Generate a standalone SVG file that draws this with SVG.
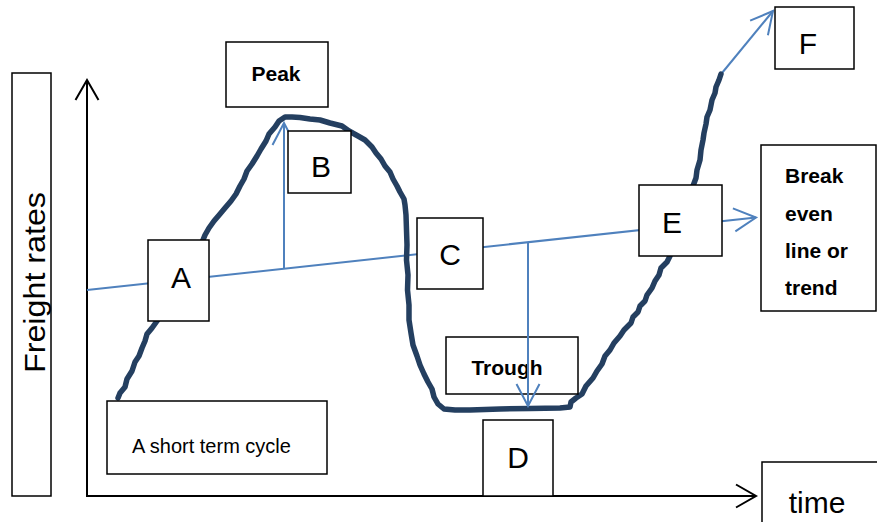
<svg xmlns="http://www.w3.org/2000/svg" width="877" height="522" viewBox="0 0 877 522">
  <defs>
    <style>
      .box { fill: #ffffff; stroke: #000000; stroke-width: 1.5; }
      .axis { fill: none; stroke: #000000; stroke-width: 2; }
      .blue { fill: none; stroke: #4F81BD; stroke-width: 2; }
      .cycle { fill: none; stroke: #243F60; stroke-width: 5.5; stroke-linejoin: round; stroke-linecap: round; }
      .lbl { font-family: "Liberation Sans", Arial, sans-serif; font-size: 30px; fill: #000000; text-anchor: middle; }
      .bold { font-family: "Liberation Sans", Arial, sans-serif; font-size: 21px; font-weight: bold; fill: #000000; }
      .small { font-family: "Liberation Sans", Arial, sans-serif; font-size: 20px; fill: #000000; }
    </style>
    <marker id="blueHead" markerUnits="userSpaceOnUse" markerWidth="26" markerHeight="26" refX="24" refY="13" orient="auto">
      <path d="M2,1.5 L24,13 L2,24.5" fill="none" stroke="#4F81BD" stroke-width="2"/>
    </marker>
    <marker id="axisHead" markerUnits="userSpaceOnUse" markerWidth="26" markerHeight="26" refX="23" refY="13" orient="auto">
      <path d="M3,1.5 L23,13 L3,24.5" fill="none" stroke="#000000" stroke-width="2"/>
    </marker>
  </defs>

  <!-- axes -->
  <g id="axes">
    <line class="axis" x1="87" y1="497" x2="87" y2="80" marker-end="url(#axisHead)"/>
    <line class="axis" x1="86" y1="496" x2="756" y2="496" marker-end="url(#axisHead)"/>
  </g>

  <!-- connectors: trend line and pointer arrows -->
  <g id="connectors">
    <line class="blue" x1="87" y1="290" x2="756" y2="217.5" marker-end="url(#blueHead)"/>
    <line class="blue" x1="284" y1="268" x2="284" y2="123" marker-end="url(#blueHead)"/>
    <line class="blue" x1="722" y1="73" x2="773" y2="11" marker-end="url(#blueHead)"/>
  </g>

  <!-- the freight rate cycle curve, hand-drawn look -->
  <g id="cycle-curve">
    <polyline class="cycle" points="118,398 120,393 125,387 127,379 132,371 135,362 139,356 142,348 145,341 147,334 152,328 157,321 170,300 190,265 203,240 205,235 209,228 214,221 220,214 225,208 231,201 236,194 240,186 244,179 247,171 252,164 257,156 261,149 266,141 269,134 275,127 279,121 285,117 292,117 300,117.5 310,119 320,120 330,123 342,126 349,131 358,136 365,140 372,147 376,153 381,159 385,166 390,172 393,179 397,186 400,192 404,199 405,205 406,215 406.5,230 407,245 406.5,260 408,275 407.5,290 409,305 409,320 411,333 413,345 417,356 420,365 424,374 428,382 432,389 434,397 438,404 444,409 455,410 470,410 500,409 530,408.5 560,408 570,407 571,402 576,398 582,394 586,386 593,378 597,371 602,364 605,356 610,350 614,343 620,336 624,330 631,323 633,317 638,312 640,306 645,301 647,295 652,288 655,281 659,275 661,268 667,262 670,256 680,225 690,195 693,186 696,178 697,170 700,160 701,150 703,140 704,133 706,124 707,117 710,110 712,100 715,93 716,87 719,80 721,74"/>
  </g>

  <!-- axis titles -->
  <g id="y-title">
    <rect class="box" x="12" y="73" width="39" height="423"/>
    <text class="lbl" x="0" y="0" transform="translate(45,282.5) rotate(-90)" textLength="181" lengthAdjust="spacingAndGlyphs">Freight rates</text>
  </g>
  <g id="x-title">
    <rect class="box" x="762" y="462" width="120" height="70"/>
    <text class="lbl" x="817" y="513" font-size="31">time</text>
  </g>

  <!-- labelled nodes -->
  <g id="node-peak">
    <rect class="box" x="226" y="42" width="102" height="65"/>
    <text class="bold" x="276" y="81" text-anchor="middle">Peak</text>
  </g>
  <g id="node-a">
    <rect class="box" x="148" y="240" width="61" height="81"/>
    <text class="lbl" x="181" y="288">A</text>
  </g>
  <g id="node-b">
    <rect class="box" x="288" y="131" width="63" height="62"/>
    <text class="lbl" x="321" y="177">B</text>
  </g>
  <g id="node-c">
    <rect class="box" x="417" y="218" width="66" height="71"/>
    <text class="lbl" x="450" y="265">C</text>
  </g>
  <g id="node-trough">
    <rect class="box" x="446" y="337" width="132" height="57"/>
    <text class="bold" x="507" y="375" text-anchor="middle">Trough</text>
  </g>
  <g id="node-d">
    <rect class="box" x="483" y="420" width="70" height="76"/>
    <text class="lbl" x="518" y="468">D</text>
  </g>
  <g id="node-e">
    <rect class="box" x="639" y="185" width="83" height="71"/>
    <text class="lbl" x="672" y="233">E</text>
  </g>
  <g id="node-f">
    <rect class="box" x="775" y="7" width="79" height="62"/>
    <text class="lbl" x="808" y="54">F</text>
  </g>
  <g id="node-break-even">
    <rect class="box" x="761" y="145" width="115" height="166"/>
    <text class="bold" x="785" y="183">Break</text>
    <text class="bold" x="785" y="221">even</text>
    <text class="bold" x="785" y="258">line or</text>
    <text class="bold" x="785" y="295">trend</text>
  </g>
  <g id="node-short-term">
    <rect class="box" x="107" y="401" width="220" height="73"/>
    <text class="small" x="132" y="453">A short term cycle</text>
  </g>

  <!-- trough pointer, drawn over the Trough box -->
  <g id="connector-trough">
    <line class="blue" x1="528" y1="242" x2="528" y2="406" marker-end="url(#blueHead)"/>
  </g>
</svg>
